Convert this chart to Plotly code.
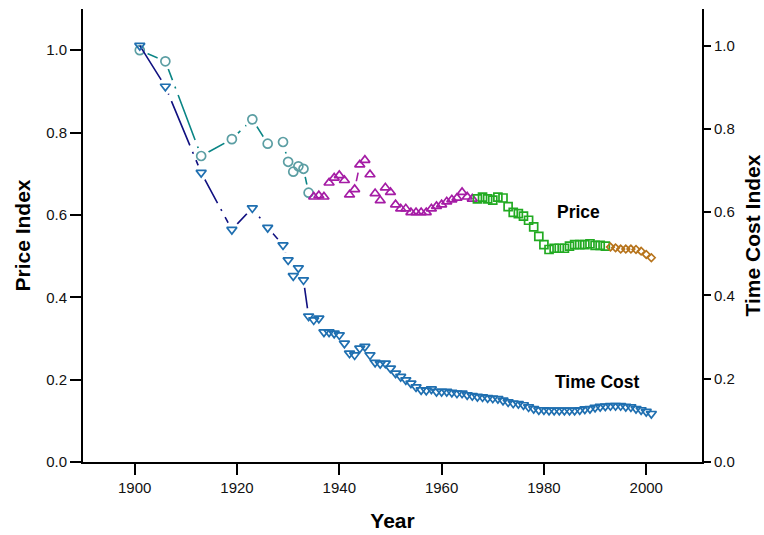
import plotly.graph_objects as go

# ---------------- data ----------------
early_years = [1901, 1906, 1913, 1919, 1923, 1926, 1929, 1930, 1931, 1932, 1933, 1934]
early_price = [1.000, 0.973, 0.743, 0.784, 0.832, 0.773, 0.777, 0.729, 0.705, 0.718, 0.712, 0.654]

mid_years = list(range(1935, 1967))
mid_price = [0.644, 0.647, 0.644, 0.678, 0.690, 0.696, 0.684, 0.649, 0.662, 0.722,
             0.733, 0.698, 0.652, 0.635, 0.666, 0.655, 0.625, 0.615, 0.615, 0.606,
             0.606, 0.606, 0.606, 0.615, 0.621, 0.625, 0.632, 0.637, 0.641, 0.655,
             0.644, 0.639]

late_years = list(range(1967, 1993))
late_price = [0.639, 0.643, 0.639, 0.636, 0.643, 0.641, 0.620, 0.606, 0.603, 0.597,
              0.587, 0.571, 0.548, 0.528, 0.516, 0.519, 0.519, 0.519, 0.524, 0.528,
              0.528, 0.528, 0.530, 0.526, 0.526, 0.524]

recent_years = list(range(1993, 2002))
recent_price = [0.522, 0.520, 0.517, 0.517, 0.517, 0.516, 0.512, 0.504, 0.496]

time_years = [1901, 1906, 1913, 1919, 1923, 1926] + list(range(1929, 2002))
time_cost = [1.000, 0.902, 0.695, 0.558, 0.610, 0.563,
             0.521, 0.485, 0.447, 0.466, 0.437, 0.350, 0.341, 0.345, 0.312, 0.312,
             0.309, 0.305, 0.285, 0.261, 0.257, 0.273, 0.277, 0.257, 0.239, 0.236,
             0.237, 0.225, 0.213, 0.205, 0.197, 0.189, 0.180, 0.173, 0.172, 0.175,
             0.169, 0.169, 0.169, 0.167, 0.165, 0.165, 0.161, 0.159, 0.157, 0.156,
             0.154, 0.153, 0.152, 0.148, 0.144, 0.141, 0.140, 0.137, 0.132, 0.128,
             0.125, 0.125, 0.124, 0.124, 0.124, 0.124, 0.124, 0.124, 0.125, 0.127,
             0.128, 0.131, 0.133, 0.134, 0.135, 0.135, 0.135, 0.133, 0.132, 0.128,
             0.125, 0.121, 0.116]

x_ticks = [1900, 1920, 1940, 1960, 1980, 2000]
y_ticks = [0.0, 0.2, 0.4, 0.6, 0.8, 1.0]

FONT = "Liberation Sans, Arial, Helvetica, sans-serif"
DASH = "48px,7px,2px,7px"

price_series = [
    (early_years, early_price, "circle", "#5b9ea3", "#0a8585", 9),
    (mid_years, mid_price, "triangle-up", "#a51ca5", "#a51ca5", 8.8),
    (late_years, late_price, "square", "#22aa22", "#22aa22", 8),
    (recent_years, recent_price, "diamond", "#b7741c", "#b7741c", 5.8),
]

fig = go.Figure()

# price lines
for xs, ys, sym, mc, lc, sz in price_series:
    fig.add_trace(go.Scatter(x=xs, y=ys, mode="lines", showlegend=False, hoverinfo="skip",
                             line=dict(color=lc, width=1.6, dash=DASH)))
# gaps around price markers
for xs, ys, sym, mc, lc, sz in price_series:
    fig.add_trace(go.Scatter(x=xs, y=ys, mode="markers", showlegend=False, hoverinfo="skip",
                             marker=dict(symbol="circle", size=sz + 8, color="white",
                                         line=dict(width=0))))
# price markers
for xs, ys, sym, mc, lc, sz in price_series:
    fig.add_trace(go.Scatter(x=xs, y=ys, mode="markers", showlegend=False,
                             marker=dict(symbol=sym + "-open", size=sz, color=mc,
                                         line=dict(width=1.7, color=mc))))

# time cost (right axis)
fig.add_trace(go.Scatter(x=time_years, y=time_cost, mode="lines", yaxis="y2",
                         showlegend=False, hoverinfo="skip",
                         line=dict(color="#101080", width=1.6, dash=DASH)))
fig.add_trace(go.Scatter(x=time_years[1:], y=time_cost[1:], mode="markers", yaxis="y2",
                         showlegend=False, hoverinfo="skip",
                         marker=dict(symbol="circle", size=16, color="white", line=dict(width=0))))
fig.add_trace(go.Scatter(x=time_years, y=time_cost, mode="markers", yaxis="y2",
                         showlegend=False,
                         marker=dict(symbol="triangle-down-open", size=8.8, color="#1f6fb0",
                                     line=dict(width=1.7, color="#1f6fb0"))))

fig.add_annotation(x=1986.8, y=0.606, xref="x", yref="y", text="Price", showarrow=False,
                   font=dict(family=FONT, size=17.5, color="black", weight="bold"))
fig.add_annotation(x=1990.3, y=0.195, xref="x", yref="y", text="Time Cost", showarrow=False,
                   font=dict(family=FONT, size=17.5, color="black", weight="bold"))

axis_common = dict(showgrid=False, zeroline=False, showline=True, linecolor="black",
                   linewidth=2, ticks="outside", tickcolor="black", tickwidth=1.5,
                   automargin=False,
                   tickfont=dict(family=FONT, size=15, color="#111"))

fig.update_layout(
    width=764, height=535,
    margin=dict(l=83, r=62, t=9, b=73),
    paper_bgcolor="white", plot_bgcolor="white",
    font=dict(family=FONT),
    xaxis=dict(range=[1889.9, 2010.9], tickvals=x_ticks, ticklen=11,
               title=dict(text="Year", standoff=18,
                          font=dict(family=FONT, size=21, color="black", weight="bold")),
               **axis_common),
    yaxis=dict(range=[0, 1.1], tickvals=y_ticks, tickformat=".1f", ticklen=11,
               title=dict(text="Price Index", standoff=10,
                          font=dict(family=FONT, size=21, color="black", weight="bold")),
               **axis_common),
    yaxis2=dict(range=[0, 1.088], tickvals=y_ticks, tickformat=".1f", ticklen=7,
                overlaying="y", side="right", anchor="x",
                title=dict(text="Time Cost Index", standoff=14,
                           font=dict(family=FONT, size=21, color="black", weight="bold")),
                **axis_common),
)

fig.write_html("out.html")
